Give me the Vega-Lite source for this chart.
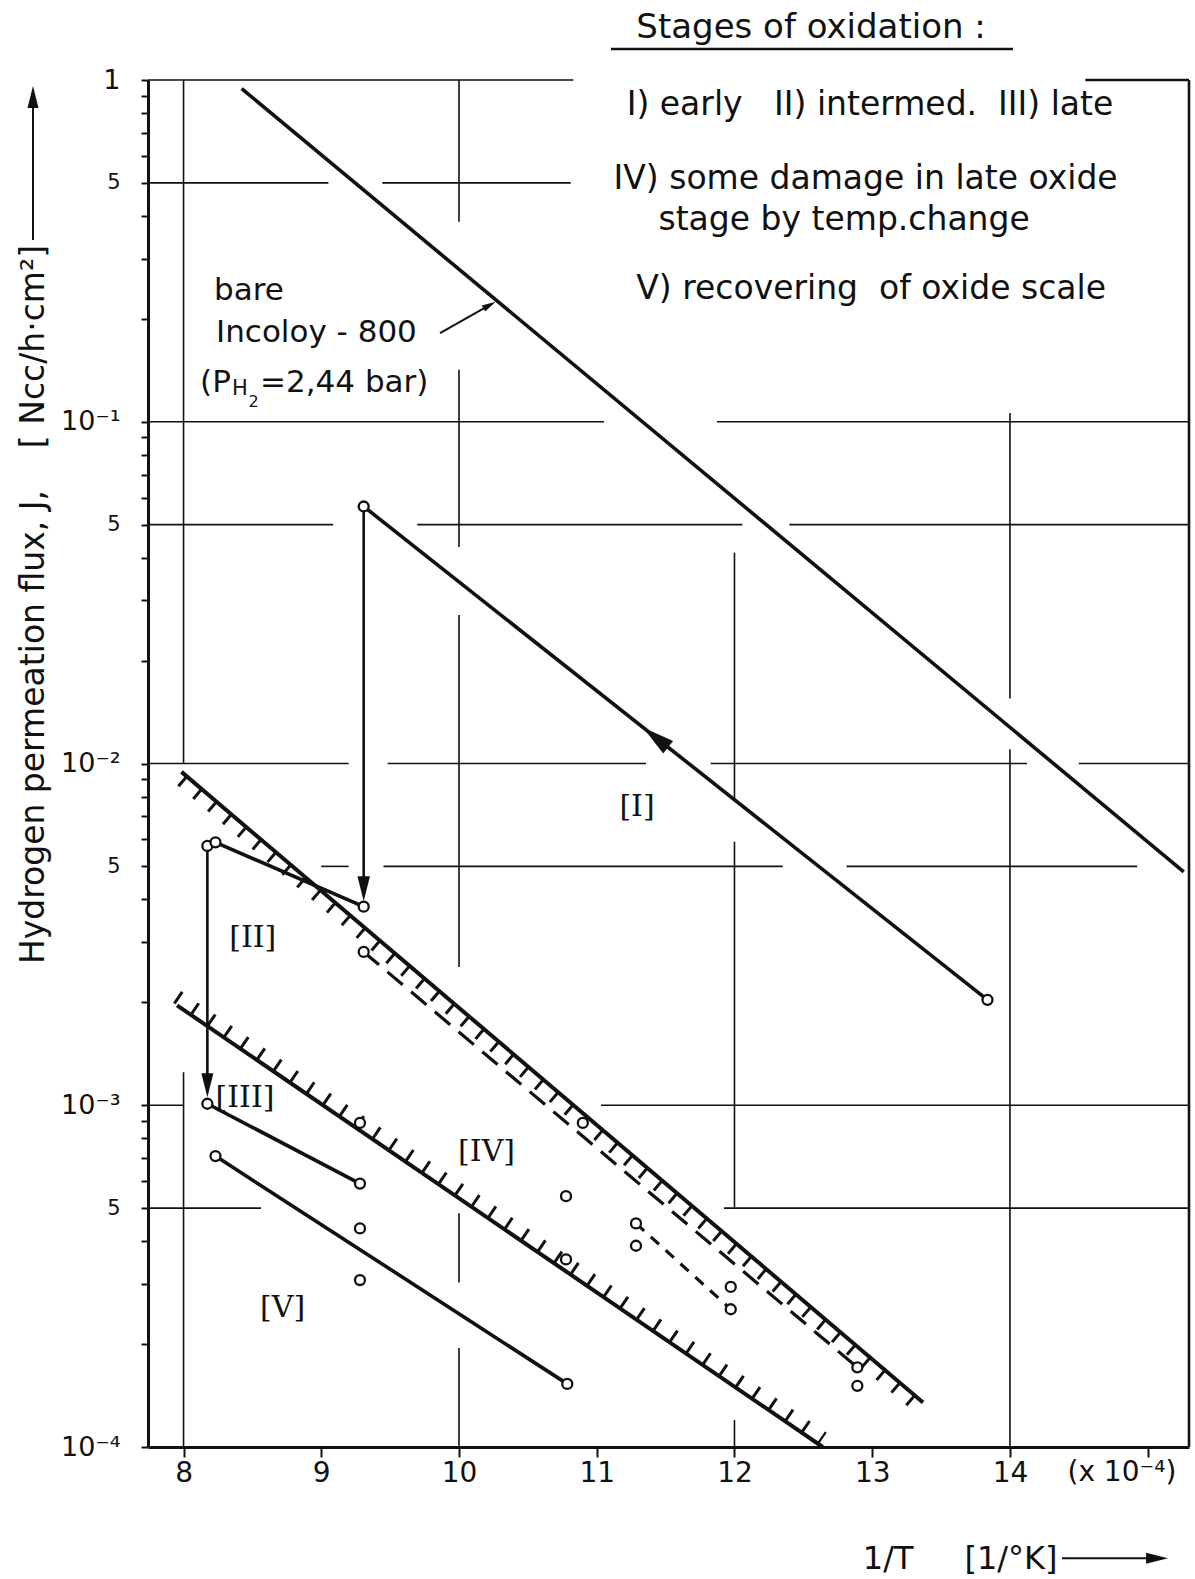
{
  "$schema": "https://vega.github.io/schema/vega-lite/v6.json",
  "width": 1041,
  "height": 1367,
  "autosize": {"type": "none"},
  "padding": {"left": 148, "top": 80, "right": 6, "bottom": 132},
  "background": "white",
  "config": {"view": {"stroke": null}, "font": "DejaVu Sans"},
  "datasets": {
    "hgrid": [
      {"x": 7.742, "x2": 10.83, "y": 1},
      {"x": 7.742, "x2": 9.052, "y": 0.5},
      {"x": 9.443, "x2": 10.811, "y": 0.5},
      {"x": 7.742, "x2": 11.053, "y": 0.1},
      {"x": 11.873, "x2": 15.3, "y": 0.1},
      {"x": 7.742, "x2": 9.086, "y": 0.05},
      {"x": 9.697, "x2": 12.057, "y": 0.05},
      {"x": 12.399, "x2": 15.3, "y": 0.05},
      {"x": 7.742, "x2": 9.199, "y": 0.01},
      {"x": 9.482, "x2": 11.358, "y": 0.01},
      {"x": 11.827, "x2": 14.124, "y": 0.01},
      {"x": 14.5, "x2": 15.3, "y": 0.01},
      {"x": 9.0, "x2": 9.198, "y": 0.005},
      {"x": 9.452, "x2": 12.35, "y": 0.005},
      {"x": 12.814, "x2": 14.924, "y": 0.005},
      {"x": 7.742, "x2": 8.004, "y": 0.001},
      {"x": 11.031, "x2": 15.3, "y": 0.001},
      {"x": 7.742, "x2": 8.563, "y": 0.0005},
      {"x": 11.924, "x2": 15.3, "y": 0.0005}
    ],
    "vgrid": [
      {"x": 8, "y": 1, "y2": 0.00996},
      {"x": 8, "y": 0.00125, "y2": 0.0001},
      {"x": 10, "y": 1, "y2": 0.385},
      {"x": 10, "y": 0.142, "y2": 0.043},
      {"x": 10, "y": 0.0272, "y2": 0.00254},
      {"x": 10, "y": 0.000483, "y2": 0.000303},
      {"x": 10, "y": 0.000195, "y2": 0.0001},
      {"x": 12, "y": 0.0414, "y2": 0.00781},
      {"x": 12, "y": 0.0059, "y2": 0.0005},
      {"x": 12, "y": 0.00012, "y2": 0.0001},
      {"x": 14, "y": 0.106, "y2": 0.0155},
      {"x": 14, "y": 0.011, "y2": 0.0001}
    ],
    "frameH": [
      {"x": 14.548, "x2": 15.3, "y": 1},
      {"x": 11.103, "x2": 14.022, "y": 1.2323}
    ],
    "frameV": [
      {"x": 15.3, "y": 1, "y2": 0.0001}
    ],
    "solid": [
      {"s": "bare", "i": 0, "x": 8.422, "y": 0.944},
      {"s": "bare", "i": 1, "x": 15.262, "y": 0.00482},
      {"s": "I", "i": 0, "x": 9.308, "y": 0.0565},
      {"s": "I", "i": 1, "x": 13.837, "y": 0.002034},
      {"s": "II", "i": 0, "x": 8.232, "y": 0.00588},
      {"s": "II", "i": 1, "x": 9.308, "y": 0.00381},
      {"s": "III", "i": 0, "x": 8.173, "y": 0.00101},
      {"s": "III", "i": 1, "x": 9.281, "y": 0.00059},
      {"s": "V", "i": 0, "x": 8.232, "y": 0.00071},
      {"s": "V", "i": 1, "x": 10.786, "y": 0.000153}
    ],
    "drops": [
      {"x": 9.308, "y": 0.0548, "y2": 0.0045},
      {"x": 8.173, "y": 0.0056, "y2": 0.0012}
    ],
    "hatchU": [
      {"x": 7.985, "y": 0.00945},
      {"x": 13.369, "y": 0.000135}
    ],
    "hatchL": [
      {"x": 7.953, "y": 0.00196},
      {"x": 12.641, "y": 0.0001}
    ],
    "dashLong": [
      {"x": 9.308, "y": 0.00281},
      {"x": 12.892, "y": 0.000171}
    ],
    "dashShort": [
      {"x": 11.285, "y": 0.000451},
      {"x": 11.973, "y": 0.000253}
    ],
    "pointers": [
      {"x": 9.862, "x2": 10.225, "y": 0.1818, "y2": 0.2196},
      {"x": 6.907, "x2": 6.907, "y": 0.3402, "y2": 0.874},
      {"x": 14.378, "x2": 15.09, "y": 0.00004724, "y2": 0.00004724}
    ],
    "circles": [
      {"x": 8.173, "y": 0.00574},
      {"x": 8.232, "y": 0.00588},
      {"x": 9.308, "y": 0.0565},
      {"x": 13.837, "y": 0.002034},
      {"x": 9.308, "y": 0.00381},
      {"x": 9.308, "y": 0.00281},
      {"x": 8.173, "y": 0.00101},
      {"x": 9.281, "y": 0.000888},
      {"x": 9.281, "y": 0.00059},
      {"x": 9.281, "y": 0.000436},
      {"x": 9.281, "y": 0.000308},
      {"x": 8.232, "y": 0.00071},
      {"x": 10.786, "y": 0.000153},
      {"x": 10.777, "y": 0.000542},
      {"x": 10.777, "y": 0.000354},
      {"x": 10.899, "y": 0.000888},
      {"x": 11.285, "y": 0.000451},
      {"x": 11.285, "y": 0.000388},
      {"x": 11.973, "y": 0.000294},
      {"x": 11.973, "y": 0.000253},
      {"x": 12.892, "y": 0.000171},
      {"x": 12.892, "y": 0.000151}
    ],
    "legend": [
      {"x": 12.984, "y": 0.8427, "t": "I) early\u00a0\u00a0 II) intermed.\u00a0 III) late"},
      {"x": 12.952, "y": 0.514, "t": "IV) some damage in late oxide"},
      {"x": 12.796, "y": 0.3893, "t": "stage by temp.change"},
      {"x": 12.992, "y": 0.2448, "t": "V) recovering\u00a0 of oxide scale"}
    ],
    "legtitle": [
      {"x": 12.556, "y": 1.419, "t": "Stages of oxidation :"}
    ],
    "annot": [
      {"x": 8.2214, "y": 0.2413, "t": "bare"},
      {"x": 8.236, "y": 0.1818, "t": "Incoloy - 800"},
      {"x": 8.1198, "y": 0.1298, "t": "(P"},
      {"x": 8.5554, "y": 0.1298, "t": "=2,44 bar)"}
    ],
    "sub1": [{"x": 8.3522, "y": 0.1247, "t": "H"}],
    "sub2": [{"x": 8.4719, "y": 0.1142, "t": "2"}],
    "stages": [
      {"x": 11.2926, "y": 0.007454, "t": "[I]"},
      {"x": 8.5024, "y": 0.00309, "t": "[II]"},
      {"x": 8.4465, "y": 0.001051, "t": "[III]"},
      {"x": 10.2, "y": 0.000729, "t": "[IV]"},
      {"x": 8.7188, "y": 0.0002553, "t": "[V]"}
    ],
    "xunit": [{"x": 14.813, "y": 0.0000838, "t": "(x 10⁻⁴)"}]
  },
  "encoding": {
    "x": {
      "field": "x",
      "type": "quantitative",
      "scale": {"domain": [7.742, 15.3], "nice": false, "zero": false},
      "axis": {
        "values": [8, 9, 10, 11, 12, 13, 14, 15],
        "labelExpr": "datum.value == 15 ? '' : datum.label",
        "grid": false,
        "domainColor": "#111",
        "domainWidth": 3,
        "tickColor": "#111",
        "tickWidth": 2,
        "tickSize": 10,
        "labelFont": "DejaVu Sans",
        "labelFontSize": 28,
        "labelColor": "#111",
        "labelPadding": 2,
        "labelFlush": false,
        "labelOverlap": false,
        "title": "1/T\u00a0\u00a0\u00a0\u00a0 [1/°K]",
        "titleFont": "DejaVu Sans",
        "titleFontSize": 32,
        "titleFontWeight": "normal",
        "titleColor": "#111",
        "titleX": 909,
        "titleY": 111,
        "titleAlign": "right",
        "titleBaseline": "middle",
        "titleAngle": 0
      }
    },
    "y": {
      "field": "y",
      "type": "quantitative",
      "scale": {"type": "log", "domain": [0.0001, 1], "nice": false},
      "axis": {
        "values": [0.0001, 0.0002, 0.0003, 0.0004, 0.0005, 0.0006, 0.0007, 0.0008, 0.0009, 0.001, 0.002, 0.003, 0.004, 0.005, 0.006, 0.007, 0.008, 0.009, 0.01, 0.02, 0.03, 0.04, 0.05, 0.06, 0.07, 0.08, 0.09, 0.1, 0.2, 0.3, 0.4, 0.5, 0.6, 0.7, 0.8, 0.9, 1],
        "labelExpr": "datum.value == 1 ? '1' : datum.value == 0.1 ? '10⁻¹' : datum.value == 0.01 ? '10⁻²' : datum.value == 0.001 ? '10⁻³' : datum.value == 0.0001 ? '10⁻⁴' : (datum.value == 0.5 || datum.value == 0.05 || datum.value == 0.005 || datum.value == 0.0005) ? '5' : ''",
        "labelFontSize": {"condition": {"test": "datum.value == 0.5 || datum.value == 0.05 || datum.value == 0.005 || datum.value == 0.0005", "value": 21}, "value": 27},
        "grid": false,
        "domainColor": "#111",
        "domainWidth": 3,
        "tickColor": "#111",
        "tickWidth": 2,
        "tickSize": 7,
        "labelFont": "DejaVu Sans",
        "labelColor": "#111",
        "labelPadding": 21,
        "labelFlush": false,
        "labelOverlap": false,
        "title": "Hydrogen permeation flux, J,\u00a0\u00a0\u00a0 [\u00a0Ncc/h·cm²]",
        "titleFont": "DejaVu Sans",
        "titleFontSize": 33,
        "titleFontWeight": "normal",
        "titleColor": "#111",
        "titleX": -115,
        "titleY": 524,
        "titleAngle": 270,
        "titleAlign": "center",
        "titleBaseline": "middle"
      }
    }
  },
  "layer": [
    {"data": {"name": "hgrid"}, "mark": {"type": "rule", "stroke": "#111", "strokeWidth": 1.6}, "encoding": {"x2": {"field": "x2"}}},
    {"data": {"name": "vgrid"}, "mark": {"type": "rule", "stroke": "#111", "strokeWidth": 1.6}, "encoding": {"y2": {"field": "y2"}}},
    {"data": {"name": "frameH"}, "mark": {"type": "rule", "stroke": "#111", "strokeWidth": 2.6}, "encoding": {"x2": {"field": "x2"}}},
    {"data": {"name": "frameV"}, "mark": {"type": "rule", "stroke": "#111", "strokeWidth": 2.6}, "encoding": {"y2": {"field": "y2"}}},
    {"data": {"name": "hatchU"}, "mark": {"type": "line", "stroke": "#111", "strokeWidth": 4}},
    {"data": {"name": "hatchU"}, "mark": {"type": "line", "stroke": "#111", "strokeWidth": 13, "strokeDash": [3, 16.5], "yOffset": 8.5}},
    {"data": {"name": "hatchL"}, "mark": {"type": "line", "stroke": "#111", "strokeWidth": 14, "strokeDash": [3, 17], "yOffset": -8.5}},
    {"data": {"name": "hatchL"}, "mark": {"type": "line", "stroke": "#111", "strokeWidth": 4}},
    {"data": {"name": "solid"}, "mark": {"type": "line", "stroke": "#111", "strokeWidth": 3.6}, "encoding": {"detail": {"field": "s"}, "order": {"field": "i", "type": "quantitative"}}},
    {"data": {"name": "drops"}, "mark": {"type": "rule", "stroke": "#111", "strokeWidth": 2.6}, "encoding": {"y2": {"field": "y2"}}},
    {"data": {"name": "dashLong"}, "mark": {"type": "line", "stroke": "#111", "strokeWidth": 3.2, "strokeDash": [20, 11]}},
    {"data": {"name": "dashShort"}, "mark": {"type": "line", "stroke": "#111", "strokeWidth": 3.2, "strokeDash": [11, 9]}},
    {"data": {"name": "pointers"}, "mark": {"type": "rule", "stroke": "#111", "strokeWidth": 2}, "encoding": {"x2": {"field": "x2"}, "y2": {"field": "y2"}}},
    {"data": {"name": "circles"}, "mark": {"type": "point", "shape": "circle", "filled": true, "fill": "white", "stroke": "#111", "strokeWidth": 2.3, "size": 100, "opacity": 1}},
    {"data": {"values": [{"x": 11.45, "y": 0.011723}]}, "mark": {"type": "point", "shape": "M0,-1L0.4,0.6L-0.4,0.6Z", "filled": true, "fill": "#111", "strokeWidth": 0, "opacity": 1, "size": 1600, "angle": 308.3}},
    {"data": {"values": [{"x": 9.308, "y": 0.004395}]}, "mark": {"type": "point", "shape": "M0,-1L0.4,0.6L-0.4,0.6Z", "filled": true, "fill": "#111", "strokeWidth": 0, "opacity": 1, "size": 977, "angle": 180}},
    {"data": {"values": [{"x": 8.173, "y": 0.001168}]}, "mark": {"type": "point", "shape": "M0,-1L0.4,0.6L-0.4,0.6Z", "filled": true, "fill": "#111", "strokeWidth": 0, "opacity": 1, "size": 900, "angle": 180}},
    {"data": {"values": [{"x": 10.211, "y": 0.2182}]}, "mark": {"type": "point", "shape": "M0,-1L0.4,0.6L-0.4,0.6Z", "filled": true, "fill": "#111", "strokeWidth": 0, "opacity": 1, "size": 306, "angle": 60.6}},
    {"data": {"values": [{"x": 6.907, "y": 0.8756}]}, "mark": {"type": "point", "shape": "M0,-1L0.4,0.6L-0.4,0.6Z", "filled": true, "fill": "#111", "strokeWidth": 0, "opacity": 1, "size": 756, "angle": 0}},
    {"data": {"values": [{"x": 15.048, "y": 0.00004724}]}, "mark": {"type": "point", "shape": "M0,-1L0.4,0.6L-0.4,0.6Z", "filled": true, "fill": "#111", "strokeWidth": 0, "opacity": 1, "size": 756, "angle": 90}},
    {"data": {"name": "legtitle"}, "mark": {"type": "text", "font": "DejaVu Sans", "fontSize": 34, "align": "center", "baseline": "middle", "color": "#111"}, "encoding": {"text": {"field": "t"}}},
    {"data": {"name": "legend"}, "mark": {"type": "text", "font": "DejaVu Sans", "fontSize": 33, "align": "center", "baseline": "middle", "color": "#111"}, "encoding": {"text": {"field": "t"}}},
    {"data": {"name": "annot"}, "mark": {"type": "text", "font": "DejaVu Sans", "fontSize": 31, "align": "left", "baseline": "middle", "color": "#111"}, "encoding": {"text": {"field": "t"}}},
    {"data": {"name": "sub1"}, "mark": {"type": "text", "font": "DejaVu Sans", "fontSize": 21, "align": "left", "baseline": "middle", "color": "#111"}, "encoding": {"text": {"field": "t"}}},
    {"data": {"name": "sub2"}, "mark": {"type": "text", "font": "DejaVu Sans", "fontSize": 16, "align": "left", "baseline": "middle", "color": "#111"}, "encoding": {"text": {"field": "t"}}},
    {"data": {"name": "stages"}, "mark": {"type": "text", "font": "DejaVu Serif", "fontSize": 30, "align": "center", "baseline": "middle", "color": "#111"}, "encoding": {"text": {"field": "t"}}},
    {"data": {"name": "xunit"}, "mark": {"type": "text", "font": "DejaVu Sans", "fontSize": 28, "align": "center", "baseline": "middle", "color": "#111"}, "encoding": {"text": {"field": "t"}}}
  ]
}
